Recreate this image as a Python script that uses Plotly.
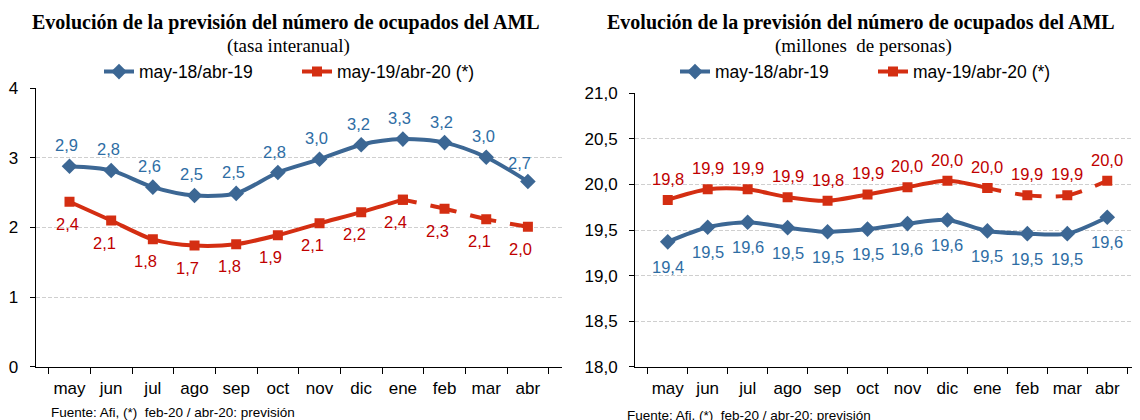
import plotly.graph_objects as go

months = ["may", "jun", "jul", "ago", "sep", "oct", "nov", "dic", "ene", "feb", "mar", "abr"]

# Left chart: tasa interanual (%)
rate_1819 = [2.88, 2.82, 2.58, 2.46, 2.49, 2.79, 2.98, 3.19, 3.27, 3.22, 3.01, 2.66]
rate_1920 = [2.37, 2.10, 1.83, 1.74, 1.76, 1.89, 2.06, 2.22, 2.40, 2.27, 2.12, 2.01]

# Right chart: millones de personas
occ_1819 = [19.37, 19.53, 19.585, 19.526, 19.48, 19.51, 19.57, 19.61, 19.49, 19.46, 19.46, 19.64]
occ_1920 = [19.83, 19.946, 19.946, 19.86, 19.82, 19.89, 19.97, 20.04, 19.96, 19.88, 19.88, 20.04]

name_a = "may-18/abr-19"
name_b = "may-19/abr-20 (*)"
forecast_start = 8  # index of "ene": dashed from here on

BLUE = "#3C6794"
RED = "#D42E12"
BLUE_TXT = "#2E6DA4"
RED_TXT = "#C00000"
FONT = "Liberation Sans, Arial, sans-serif"
SERIF = "Liberation Serif, Times New Roman, serif"

# The page adds an 8px body margin; the figure is sized so it fills the window.
OFF = 8
W, H = 1140 - OFF, 420 - OFF

def px(x):
    return (x - OFF) / W

def py(y):
    return 1 - (y - OFF) / H

DASH = "14px,14px,27px,14px,27px,14px,27px,14px,27px"

fig = go.Figure()

def add_series(xa, ya, legend, vals_a, vals_b):
    fig.add_trace(go.Scatter(
        x=months, y=vals_a, name=name_a, mode="lines+markers",
        line=dict(color=BLUE, width=4, shape="spline", smoothing=0.8),
        marker=dict(symbol="diamond", size=12, color=BLUE),
        xaxis=xa, yaxis=ya, legend=legend, hoverinfo="skip"))
    fig.add_trace(go.Scatter(
        x=months[:forecast_start + 1], y=vals_b[:forecast_start + 1], name=name_b,
        mode="lines+markers",
        line=dict(color=RED, width=4, shape="spline", smoothing=0.8),
        marker=dict(symbol="square", size=10, color=RED),
        xaxis=xa, yaxis=ya, legend=legend, hoverinfo="skip"))
    fig.add_trace(go.Scatter(
        x=months[forecast_start:], y=vals_b[forecast_start:], name=name_b,
        mode="lines+markers", showlegend=False,
        line=dict(color=RED, width=4, shape="spline", smoothing=0.8, dash=DASH),
        marker=dict(symbol="square", size=10, color=RED),
        xaxis=xa, yaxis=ya, hoverinfo="skip"))

add_series("x", "y", "legend", rate_1819, rate_1920)
add_series("x2", "y2", "legend2", occ_1819, occ_1920)

def fmt(v):
    return f"{v:.1f}".replace(".", ",")

LBL = 16.5
annotations = []
for i, m in enumerate(months):
    # left chart labels
    annotations.append(dict(x=m, y=rate_1819[i], xref="x", yref="y", text=fmt(rate_1819[i]),
                            showarrow=False, yshift=21 if i < 11 else 19, xshift=-3 if i < 11 else -8,
                            font=dict(family=FONT, size=LBL, color=BLUE_TXT)))
    annotations.append(dict(x=m, y=rate_1920[i], xref="x", yref="y", text=fmt(rate_1920[i]),
                            showarrow=False, yshift=-22, xshift=-7 if i > 0 else -2,
                            font=dict(family=FONT, size=LBL, color=RED_TXT)))
    # right chart labels
    annotations.append(dict(x=m, y=occ_1920[i], xref="x2", yref="y2", text=fmt(occ_1920[i]),
                            showarrow=False, yshift=21,
                            font=dict(family=FONT, size=LBL, color=RED_TXT)))
    annotations.append(dict(x=m, y=occ_1819[i], xref="x2", yref="y2", text=fmt(occ_1819[i]),
                            showarrow=False, yshift=-25,
                            font=dict(family=FONT, size=LBL, color=BLUE_TXT)))

title_txt = "Evolución de la previsión del número de ocupados del AML"
for cx, scx, sub in [(286, 288, "(tasa interanual)"), (861, 863, "(millones  de personas)")]:
    annotations.append(dict(x=px(cx), y=py(23), xref="paper", yref="paper",
                            xanchor="center", yanchor="middle",
                            text="<b>" + title_txt + "</b>", showarrow=False,
                            font=dict(family=SERIF, size=20, color="#000")))
    annotations.append(dict(x=px(scx), y=py(46), xref="paper", yref="paper",
                            xanchor="center", yanchor="middle",
                            text=sub.replace("  ", "&nbsp; "), showarrow=False,
                            font=dict(family=SERIF, size=19, color="#000")))

for lx, ly in [(49, 412), (625, 415)]:
    annotations.append(dict(x=px(lx), y=py(ly), xref="paper", yref="paper",
                            xanchor="left", yanchor="middle",
                            text="Fuente: Afi, (*)&nbsp; feb-20 / abr-20: previsión", showarrow=False,
                            font=dict(family=FONT, size=13.5, color="#000")))

TICKF = dict(family=FONT, size=17, color="#000")
xaxis_common = dict(type="category", showline=True, linecolor="#000", linewidth=1,
                    ticks="outside", ticklen=6, tickcolor="#000", tickson="boundaries",
                    showgrid=False, tickfont=TICKF, tickangle=0, automargin=False,
                    ticklabelstandoff=6, fixedrange=True)
yaxis_common = dict(showline=True, linecolor="#000", linewidth=1, ticks="outside", ticklen=5,
                    tickcolor="#000", showgrid=True, gridcolor="#CFCFCF", griddash="4px,2px",
                    gridwidth=1, zeroline=False, tickfont=TICKF, ticklabelstandoff=8,
                    automargin=False, fixedrange=True)

LEG = dict(orientation="h", xanchor="left", yanchor="middle",
           font=dict(family=FONT, size=17.5, color="#000"), bgcolor="rgba(0,0,0,0)",
           entrywidth=153, itemwidth=30, tracegroupgap=0)

fig.update_layout(
    width=W, height=H,
    margin=dict(l=0, r=0, t=0, b=0, autoexpand=False),
    paper_bgcolor="white", plot_bgcolor="white",
    separators=",.",
    showlegend=True,
    xaxis=dict(domain=[px(35.7), px(561.7)], anchor="y", **xaxis_common),
    yaxis=dict(domain=[py(366.7), py(88.3)], anchor="x", range=[0, 4], dtick=1,
               tickformat="d", **yaxis_common),
    xaxis2=dict(domain=[px(635), 1.0], anchor="y2", **xaxis_common),
    yaxis2=dict(domain=[py(366.7), py(93.3)], anchor="x2", range=[18, 21], dtick=0.5,
                tickformat=".1f", **yaxis_common),
    legend=dict(x=px(99), y=py(71.7), **LEG),
    legend2=dict(x=px(675), y=py(71.7), **LEG),
    annotations=annotations,
)

fig.write_html("out.html")
